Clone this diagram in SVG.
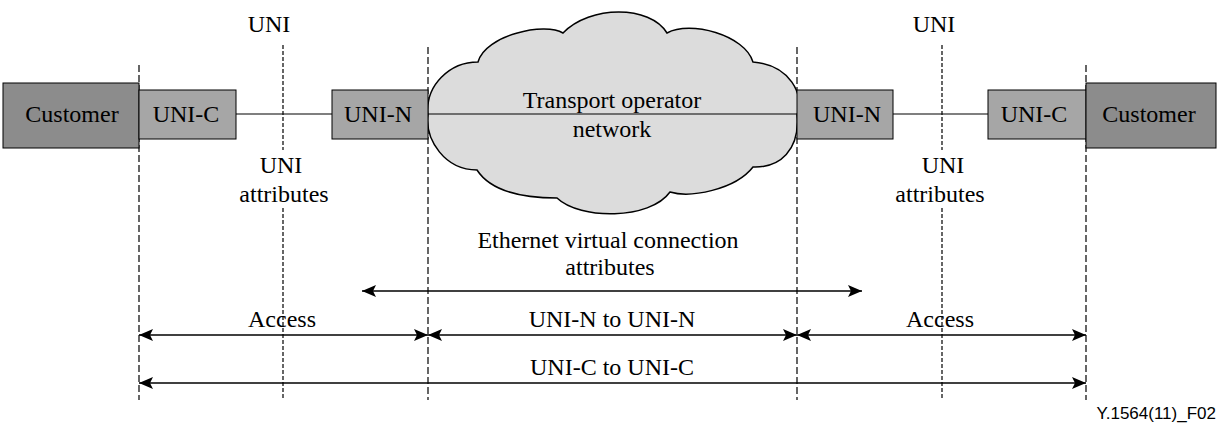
<svg xmlns="http://www.w3.org/2000/svg" width="1225" height="424" viewBox="0 0 1225 424">
<style>
text{font-family:"Liberation Serif","Times New Roman",serif;font-size:24px;fill:#000;text-anchor:middle}
.fig{font-family:"Liberation Sans",Arial,sans-serif;font-size:17px;text-anchor:end}
.cust{fill:#8c8c8c;stroke:#000;stroke-width:1}
.uni{fill:#a6a6a6;stroke:#000;stroke-width:1}
.bound{stroke:#000;stroke-width:1.2;stroke-dasharray:7 3;fill:none}
.unil{stroke:#000;stroke-width:1.2;stroke-dasharray:4 2;fill:none}
.conn{stroke:#000;stroke-width:1.2;fill:none}
.arr{stroke:#000;stroke-width:1.5;fill:none;marker-start:url(#ah);marker-end:url(#ah)}
</style>
<defs>
<marker id="ah" viewBox="0 0 14 12" refX="14" refY="6" markerWidth="14" markerHeight="12" markerUnits="userSpaceOnUse" orient="auto-start-reverse">
<path d="M0,0 L14,6 L0,12 L3,6 Z" fill="#000"/>
</marker>
</defs>
<rect width="1225" height="424" fill="#fff"/>
<g id="guides">
<line class="bound" x1="139" y1="65" x2="139" y2="400"/>
<line class="unil" x1="283" y1="45" x2="283" y2="150"/>
<line class="unil" x1="283" y1="208" x2="283" y2="400"/>
<line class="bound" x1="428" y1="47" x2="428" y2="400"/>
<line class="bound" x1="797" y1="47" x2="797" y2="400"/>
<line class="unil" x1="942" y1="45" x2="942" y2="150"/>
<line class="unil" x1="942" y1="208" x2="942" y2="400"/>
<line class="bound" x1="1086" y1="65" x2="1086" y2="400"/>
</g>
<g id="cloud">
<path d="M428,115 C425,85 450,62 478,62 C485,35 545,22 563,33 C590,5 650,5 667,33 C690,20 745,35 753,62 C790,65 805,95 797,115 C800,150 780,168 753,167 C735,190 690,198 670,192 C650,220 580,220 557,198 C520,198 490,190 477,170 C445,170 425,140 428,115 Z" fill="#dcdcdc" stroke="#000" stroke-width="1.5"/>
</g>
<g id="connectors">
<line class="conn" x1="236" y1="114" x2="332" y2="114"/>
<line class="conn" x1="428" y1="114" x2="797" y2="114"/>
<line class="conn" x1="893" y1="114" x2="988" y2="114"/>
<line class="arr" x1="362" y1="291" x2="862" y2="291"/>
<line class="arr" x1="139" y1="335" x2="428" y2="335"/>
<line class="arr" x1="428" y1="335" x2="797" y2="335"/>
<line class="arr" x1="797" y1="335" x2="1086" y2="335"/>
<line class="arr" x1="139" y1="383" x2="1086" y2="383"/>
</g>
<g id="cloud-label">
<text x="612" y="108">Transport operator</text>
<text x="612" y="137">network</text>
</g>
<g id="customer-left"><rect class="cust" x="3" y="83" width="136" height="65"/><text x="72" y="122">Customer</text></g>
<g id="unic-left"><rect class="uni" x="139" y="90" width="97" height="49"/><text x="186" y="122">UNI-C</text></g>
<g id="unin-left"><rect class="uni" x="332" y="90" width="96" height="49"/><text x="378" y="122">UNI-N</text></g>
<g id="unin-right"><rect class="uni" x="797" y="90" width="96" height="49"/><text x="847" y="122">UNI-N</text></g>
<g id="unic-right"><rect class="uni" x="988" y="90" width="98" height="49"/><text x="1034" y="122">UNI-C</text></g>
<g id="customer-right"><rect class="cust" x="1086" y="83" width="130" height="65"/><text x="1149" y="122">Customer</text></g>
<g id="labels">
<text x="269" y="32">UNI</text>
<text x="934" y="32">UNI</text>
<text x="281" y="173">UNI</text>
<text x="284" y="202">attributes</text>
<text x="943" y="173">UNI</text>
<text x="940" y="202">attributes</text>
<text x="608" y="248">Ethernet virtual connection</text>
<text x="610" y="275">attributes</text>
<text x="282" y="327">Access</text>
<text x="612" y="327">UNI-N to UNI-N</text>
<text x="940" y="327">Access</text>
<text x="612" y="375">UNI-C to UNI-C</text>
<text class="fig" x="1216" y="419">Y.1564(11)_F02</text>
</g>
</svg>
